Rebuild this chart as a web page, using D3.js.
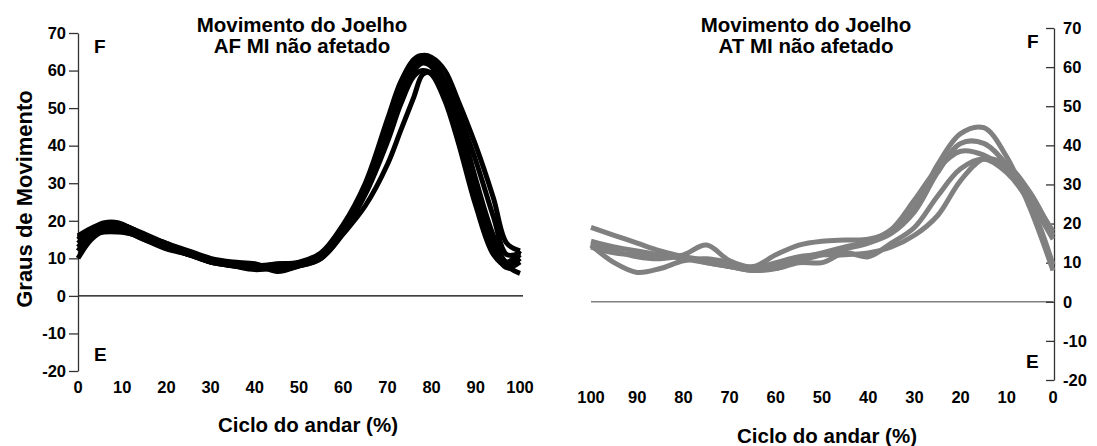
<!DOCTYPE html>
<html><head><meta charset="utf-8">
<script src="https://cdn.jsdelivr.net/npm/d3@7"></script>
<style>
body{margin:0;background:#fff}
svg{display:block}
text{font-family:Arial,"Liberation Sans",sans-serif;font-weight:bold;fill:#000}
</style>
</head><body>
<svg id="c" width="1097" height="446"></svg>
<script>
// ---- data ----
const yTicks = [-20, -10, 0, 10, 20, 30, 40, 50, 60, 70];
const xTicks = [0, 10, 20, 30, 40, 50, 60, 70, 80, 90, 100];

const titleLeft = ["Movimento do Joelho", "AF MI não afetado"];
const titleRight = ["Movimento do Joelho", "AT MI não afetado"];
const yTitle = "Graus de Movimento";
const xTitle = "Ciclo do andar (%)";

// left panel (black curves): cycle % and knee angle per trial
const leftX = [0, 3, 6, 9, 12, 15, 20, 25, 30, 35, 40, 45, 50, 55, 60, 65, 70, 73, 76, 78, 80, 83, 86, 90, 94, 97, 100];
const left1 = [10, 15, 17.5, 18, 17.5, 16, 14, 11.5, 9.5, 8.5, 8, 8, 8.5, 11, 18, 28, 43, 53, 60, 62, 61, 55, 45, 28, 14, 9, 11];
const left2 = [16, 18, 19.5, 19.5, 18, 16.5, 14, 12, 10, 9, 8.5, 6.5, 8, 10.5, 17, 27, 41, 51, 58.5, 60, 59, 52, 41, 24, 11, 8, 10];
const left3 = [14, 17, 18.5, 19, 18, 16, 13.5, 11.5, 9.5, 8.5, 7.5, 7.5, 8, 10, 17, 28, 45, 56, 62, 64, 63.5, 60, 52, 40, 26, 14, 12];
const left4 = [15, 17.5, 18, 18, 17, 15.5, 13, 11, 9, 8, 7.5, 8.5, 8.5, 11, 18, 29, 46, 56, 62, 63.5, 62, 56, 46, 29, 14, 8, 6];
const left5 = [12, 16, 17, 17, 16.5, 15, 13, 11, 9.5, 8, 8, 8.5, 9, 11.5, 19, 30, 47, 57, 63, 64, 62, 55, 44, 27, 13, 7.5, 9];
const left6 = [13, 16.5, 18.5, 19, 18, 16, 13.5, 11.5, 9, 8.5, 8.5, 7, 8, 10, 16.5, 24, 35, 44, 53, 59, 59.5, 56, 49, 36, 21, 11, 11.5];
const left7 = [15.5, 17, 17.5, 17.5, 16.5, 15, 12.5, 11, 9, 8, 7, 7.5, 8.5, 10.5, 17.5, 27.5, 44, 55, 61.5, 63, 62.5, 57.5, 48, 31, 16, 9, 12];

// right panel (grey curves), axis reversed
const rightX = [0, 5, 10, 15, 20, 25, 30, 35, 40, 45, 50, 55, 60, 65, 70, 75, 80, 85, 90, 95, 100];
const right1 = [8, 24, 37, 44.5, 43, 35, 24, 18, 16, 15.8, 15.5, 14.5, 12, 9, 10.5, 14.5, 12, 11, 11.5, 13, 15];
const right2 = [16, 26, 35, 40.5, 40.5, 33, 23, 17.5, 15, 13.5, 12, 10.5, 8.5, 8, 9, 10, 11, 12, 13, 14, 15.5];
const right3 = [18, 27, 33.5, 37.5, 38.5, 34, 26, 18.5, 15.5, 14, 12.5, 11, 9, 8, 9, 10, 11.5, 13, 15, 17, 19];
const right4 = [9.5, 25, 33, 36.5, 34, 27, 19, 15, 11.5, 12.5, 10, 10, 8.5, 8.5, 10, 11, 10.5, 8.5, 7.5, 10, 14.5];
const right5 = [17, 28, 35, 36.5, 31, 22, 17, 14, 12.5, 12, 12, 11.5, 10, 8.5, 9, 10.5, 11.5, 12, 12, 12.5, 14];

const leftSeries = [left1, left2, left3, left4, left5, left6, left7];
const rightSeries = [right1, right2, right3, right4, right5];

// ---- drawing ----
const svg = d3.select("#c");
const FONT = "Arial, 'Liberation Sans', sans-serif";

const xL = d3.scaleLinear().domain([0, 100]).range([78, 520]);
const yL = d3.scaleLinear().domain([-20, 70]).range([371, 33]);
const xR = d3.scaleLinear().domain([100, 0]).range([591, 1053]);
const yR = d3.scaleLinear().domain([-20, 70]).range([380, 28]);

// zero lines
svg.append("line").attr("x1", xL(0)).attr("x2", xL(100) + 3).attr("y1", yL(0)).attr("y2", yL(0))
  .attr("stroke", "#000").attr("stroke-width", 1.2);
svg.append("line").attr("x1", xR(100)).attr("x2", xR(0)).attr("y1", yR(0)).attr("y2", yR(0))
  .attr("stroke", "#808080").attr("stroke-width", 1.5);

function styleAxis(ax) {
  ax.select(".domain").attr("stroke", "#333").attr("stroke-width", 1.3);
  ax.selectAll(".tick line").attr("stroke", "#333").attr("stroke-width", 1.3);
  ax.selectAll(".tick text").style("font-size", "16.5px").style("font-family", FONT)
    .style("font-weight", "bold").attr("fill", "#000");
}

// left y axis
const axL = svg.append("g").attr("transform", `translate(${xL(0)},0)`)
  .call(d3.axisLeft(yL).tickValues(yTicks).tickFormat(d => String(d))
    .tickSize(9).tickSizeOuter(0).tickPadding(3));
styleAxis(axL);

// right y axis
const axR = svg.append("g").attr("transform", `translate(${xR(0) + 1},0)`)
  .call(d3.axisRight(yR).tickValues(yTicks).tickFormat(d => String(d))
    .tickSizeInner(-8).tickSizeOuter(0).tickPadding(9));
styleAxis(axR);

// x tick labels
svg.append("g").selectAll("text").data(xTicks).join("text")
  .attr("x", d => xL(d)).attr("y", 393).attr("text-anchor", "middle")
  .style("font-size", "16.5px").text(d => d);
svg.append("g").selectAll("text").data(xTicks).join("text")
  .attr("x", d => xR(d)).attr("y", 403).attr("text-anchor", "middle")
  .style("font-size", "16.5px").text(d => d);

// curves
const lineL = d3.line().x((d, i) => xL(leftX[i])).y(d => yL(d)).curve(d3.curveCatmullRom.alpha(0.5));
const lineR = d3.line().x((d, i) => xR(rightX[i])).y(d => yR(d)).curve(d3.curveCatmullRom.alpha(0.5));

svg.append("g").selectAll("path").data(leftSeries).join("path")
  .attr("d", lineL).attr("fill", "none").attr("stroke", "#000").attr("stroke-width", 5)
  .attr("stroke-linejoin", "round");
svg.append("g").selectAll("path").data(rightSeries).join("path")
  .attr("d", lineR).attr("fill", "none").attr("stroke", "#808080").attr("stroke-width", 5)
  .attr("stroke-linejoin", "round");

// titles
function title(cx, y0, lines) {
  svg.append("g").selectAll("text").data(lines).join("text")
    .attr("x", cx).attr("y", (d, i) => y0 + i * 21).attr("text-anchor", "middle")
    .style("font-size", "20.5px").text(d => d);
}
title(302, 32, titleLeft);
title(806, 32, titleRight);

// axis titles
svg.append("text").attr("x", 308).attr("y", 432).attr("text-anchor", "middle").style("font-size", "20.5px").text(xTitle);
svg.append("text").attr("x", 827).attr("y", 443).attr("text-anchor", "middle").style("font-size", "20.5px").text(xTitle);
svg.append("text").attr("transform", "translate(32,199) rotate(-90)").attr("text-anchor", "middle")
  .style("font-size", "22px").text(yTitle);

// F / E labels
const fs = "19px";
svg.append("text").attr("x", 94).attr("y", 53).style("font-size", fs).text("F");
svg.append("text").attr("x", 94).attr("y", 361).style("font-size", fs).text("E");
svg.append("text").attr("x", 1027).attr("y", 48).style("font-size", fs).text("F");
svg.append("text").attr("x", 1026).attr("y", 368).style("font-size", fs).text("E");
</script>
</body></html>
